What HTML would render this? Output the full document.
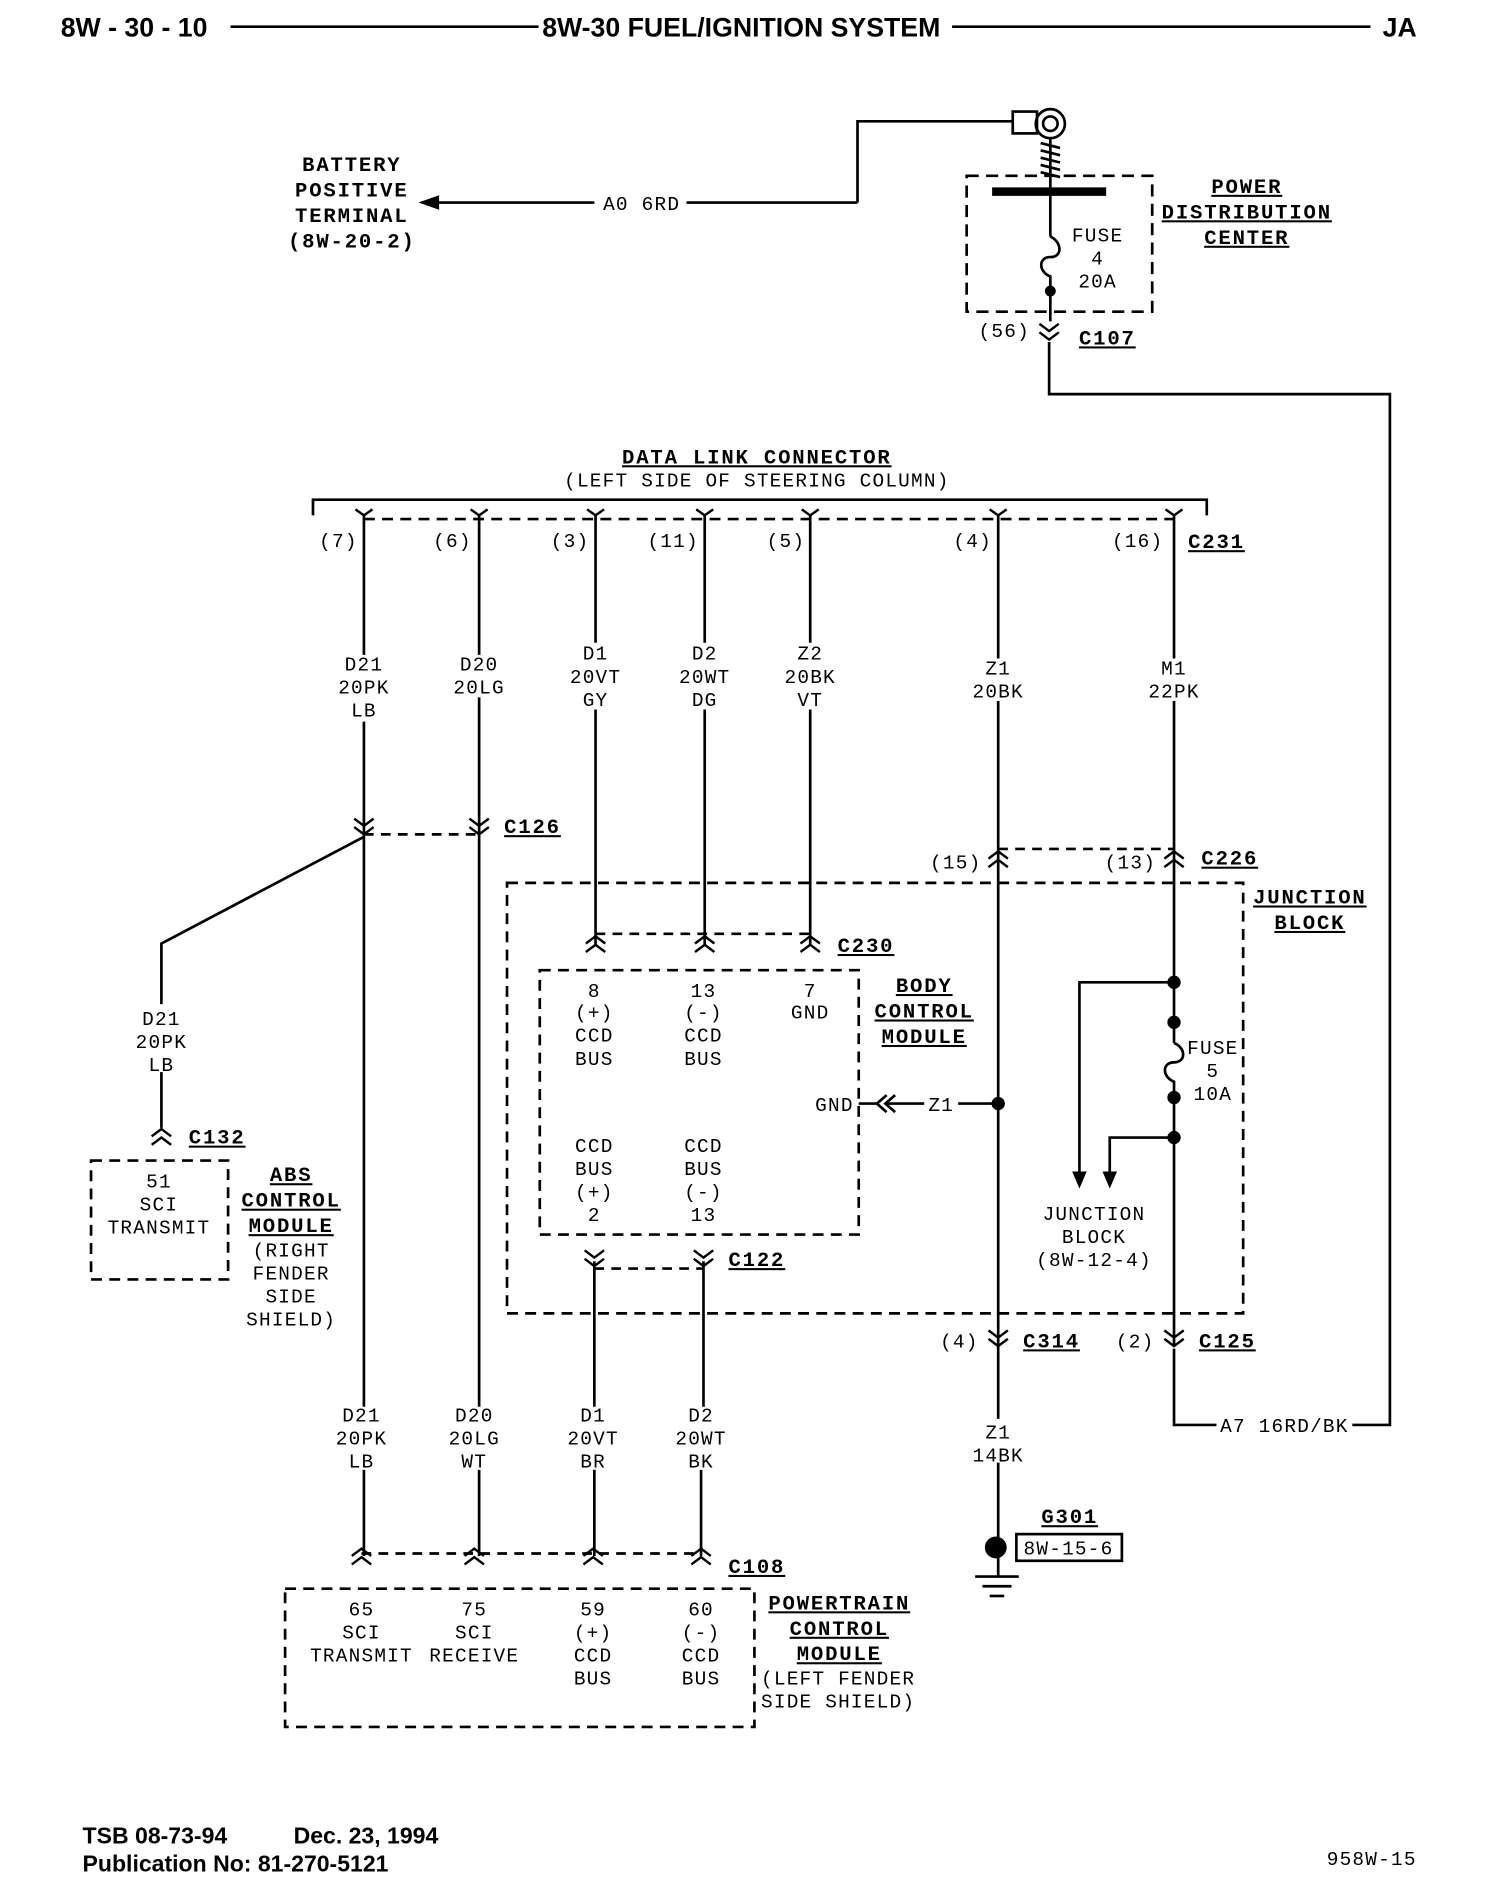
<!DOCTYPE html>
<html><head><meta charset="utf-8"><style>
html,body{margin:0;padding:0;background:#fff}
svg{display:block}
.t{font-family:"Liberation Mono",monospace;font-size:16px;letter-spacing:1px;fill:#000;text-anchor:middle}
.b{font-family:"Liberation Mono",monospace;font-size:17px;font-weight:bold;letter-spacing:1.5px;fill:#000;text-anchor:middle}
.u{text-decoration:underline}
.h{font-family:"Liberation Sans",sans-serif;font-weight:bold;font-size:22px;fill:#000}
.f{font-family:"Liberation Sans",sans-serif;font-weight:bold;font-size:19px;fill:#000}
</style></head><body>
<svg width="1504" height="1904" viewBox="0 0 1240 1570" xmlns="http://www.w3.org/2000/svg">
<defs>
<path id="dn" d="M-8,-7 L0,-1 L8,-7 M-8,0 L0,6 L8,0" fill="none" stroke="#000" stroke-width="2"/>
<path id="up" d="M-8,7 L0,1 L8,7 M-8,0 L0,-6 L8,0" fill="none" stroke="#000" stroke-width="2"/>
<path id="fk" d="M-7,-5 L0,0 L7,-5" fill="none" stroke="#000" stroke-width="2"/>
</defs>
<g stroke="#000" stroke-width="2.2" fill="none">
<!-- header lines -->
<line x1="190" y1="22" x2="444" y2="22"/>
<line x1="785" y1="22" x2="1130" y2="22"/>
<!-- battery feed -->
<line x1="352" y1="167" x2="490" y2="167"/>
<line x1="566" y1="167" x2="707" y2="167"/>
<polyline points="707,167 707,100 835,100"/>
<rect x="835" y="92" width="20" height="18"/>
<circle cx="866" cy="102" r="12"/><circle cx="866" cy="102" r="6"/>
<path d="M858,118 L874,122 M858,124 L874,128 M858,130 L874,134 M858,136 L874,140 M858,142 L874,146"/>
<line x1="866" y1="114" x2="866" y2="158"/>
<line x1="818" y1="158" x2="912" y2="158" stroke-width="7"/>
<line x1="866" y1="158" x2="866" y2="195"/>
<path d="M866,195 C876,200 876,212 866,212 C856,212 856,224 866,228 L866,265"/>
<rect x="797" y="145" width="153" height="112" stroke-dasharray="10,6"/>
<polyline points="865,282 865,325 1146,325 1146,1175 1115,1175"/>
<polyline points="968,1112 968,1175 1003,1175"/>
<!-- DLC bracket -->
<polyline points="258,425 258,412 995,412 995,425"/>
<line x1="300" y1="428" x2="968" y2="428" stroke-dasharray="9,6"/>
<!-- wires -->
<line x1="300" y1="425" x2="300" y2="540"/>
<line x1="300" y1="595" x2="300" y2="1160"/>
<line x1="300" y1="1212" x2="300" y2="1283"/>
<line x1="395" y1="425" x2="395" y2="540"/>
<line x1="395" y1="575" x2="395" y2="1160"/>
<line x1="395" y1="1212" x2="395" y2="1283"/>
<line x1="491" y1="425" x2="491" y2="530"/>
<line x1="491" y1="585" x2="491" y2="780"/>
<line x1="581" y1="425" x2="581" y2="530"/>
<line x1="581" y1="585" x2="581" y2="780"/>
<line x1="668" y1="425" x2="668" y2="530"/>
<line x1="668" y1="585" x2="668" y2="780"/>
<line x1="823" y1="425" x2="823" y2="543"/>
<line x1="823" y1="578" x2="823" y2="1170"/>
<line x1="823" y1="1206" x2="823" y2="1275"/>
<line x1="968" y1="425" x2="968" y2="543"/>
<line x1="968" y1="578" x2="968" y2="860"/>
<path d="M968,860 C978,864 978,876 968,876 C958,876 958,888 968,892 L968,1110"/>
<line x1="490" y1="1040" x2="490" y2="1160"/>
<line x1="580" y1="1040" x2="580" y2="1160"/>
<line x1="490" y1="1212" x2="490" y2="1283"/>
<line x1="578" y1="1212" x2="578" y2="1283"/>
<!-- dashed connector links -->
<line x1="300" y1="688" x2="395" y2="688" stroke-dasharray="8,6"/>
<line x1="823" y1="700" x2="968" y2="700" stroke-dasharray="8,6"/>
<line x1="491" y1="770" x2="668" y2="770" stroke-dasharray="8,6"/>
<line x1="490" y1="1046" x2="580" y2="1046" stroke-dasharray="8,6"/>
<line x1="298" y1="1281" x2="578" y2="1281" stroke-dasharray="8,6"/>
<!-- ABS branch -->
<polyline points="300,690 133,778 133,828"/>
<line x1="133" y1="884" x2="133" y2="930"/>
<rect x="75" y="957" width="113" height="98" stroke-dasharray="9,6"/>
<!-- boxes -->
<rect x="418" y="728" width="607" height="355" stroke-dasharray="9,6"/>
<rect x="445" y="800" width="263" height="218" stroke-dasharray="9,6"/>
<rect x="235" y="1310" width="387" height="114" stroke-dasharray="9,6"/>
<!-- GND -->
<path d="M738,903 L730,910 L738,917 M731,903 L723,910 L731,917"/>
<line x1="708" y1="910" x2="723" y2="910"/>
<line x1="730" y1="910" x2="762" y2="910"/>
<line x1="790" y1="910" x2="823" y2="910"/>
<!-- junction block branches -->
<polyline points="968,810 890,810 890,970"/>
<polyline points="968,938 915,938 915,970"/>
<!-- ground -->
<line x1="804" y1="1300" x2="840" y2="1300"/>
<line x1="810" y1="1308" x2="834" y2="1308"/>
<line x1="816" y1="1316" x2="828" y2="1316"/>
<line x1="823" y1="1275" x2="823" y2="1300"/>
<rect x="838" y="1265" width="87" height="22"/>
</g>
<g fill="#000">
<path d="M345,167 L362,161 L362,173 Z"/>
<circle cx="866" cy="240" r="4.5"/>
<circle cx="968" cy="810" r="5.5"/><circle cx="968" cy="843" r="5.5"/>
<circle cx="968" cy="905" r="5.5"/><circle cx="968" cy="938" r="5.5"/>
<circle cx="823" cy="910" r="5.5"/>
<circle cx="821" cy="1276" r="9"/>
<path d="M890,980 L884,966 L896,966 Z"/><path d="M915,980 L909,966 L921,966 Z"/>
</g>
<!-- connector symbols -->
<use href="#dn" x="865" y="274"/>
<use href="#fk" x="300" y="425"/><use href="#fk" x="395" y="425"/><use href="#fk" x="491" y="425"/><use href="#fk" x="581" y="425"/><use href="#fk" x="668" y="425"/><use href="#fk" x="823" y="425"/><use href="#fk" x="968" y="425"/>
<use href="#dn" x="300" y="682"/><use href="#dn" x="395" y="682"/>
<use href="#up" x="823" y="708"/><use href="#up" x="968" y="708"/>
<use href="#up" x="491" y="778"/><use href="#up" x="581" y="778"/><use href="#up" x="668" y="778"/>
<use href="#up" x="133" y="937"/>
<use href="#dn" x="490" y="1038"/><use href="#dn" x="580" y="1038"/>
<use href="#dn" x="823" y="1104"/><use href="#dn" x="968" y="1104"/>
<use href="#up" x="298" y="1283"/><use href="#up" x="391" y="1283"/><use href="#up" x="489" y="1283"/><use href="#up" x="578" y="1283"/>
<!-- header text -->
<text class="h" x="50" y="30">8W - 30 - 10</text>
<text class="h" x="447" y="30">8W-30 FUEL/IGNITION SYSTEM</text>
<text class="h" x="1140" y="30">JA</text>
<!-- battery -->
<text class="b" x="290" y="141">BATTERY</text>
<text class="b" x="290" y="162">POSITIVE</text>
<text class="b" x="290" y="183">TERMINAL</text>
<text class="b" x="290" y="204">(8W-20-2)</text>
<text class="t" x="529" y="173">A0 6RD</text>
<text class="t" x="905" y="199">FUSE</text><text class="t" x="905" y="218">4</text><text class="t" x="905" y="237">20A</text>
<text class="b u" x="1028" y="159">POWER</text><text class="b u" x="1028" y="180">DISTRIBUTION</text><text class="b u" x="1028" y="201">CENTER</text>
<text class="t" x="828" y="278">(56)</text><text class="b u" x="913" y="284">C107</text>
<text class="b u" x="624" y="382">DATA LINK CONNECTOR</text>
<text class="t" x="624" y="401">(LEFT SIDE OF STEERING COLUMN)</text>
<text class="t" x="279" y="451">(7)</text><text class="t" x="373" y="451">(6)</text><text class="t" x="470" y="451">(3)</text><text class="t" x="555" y="451">(11)</text><text class="t" x="648" y="451">(5)</text><text class="t" x="802" y="451">(4)</text><text class="t" x="938" y="451">(16)</text>
<text class="b u" x="1003" y="452">C231</text>
<text class="t" x="300" y="553">D21</text><text class="t" x="300" y="572">20PK</text><text class="t" x="300" y="591">LB</text>
<text class="t" x="395" y="553">D20</text><text class="t" x="395" y="572">20LG</text>
<text class="t" x="491" y="544">D1</text><text class="t" x="491" y="563">20VT</text><text class="t" x="491" y="582">GY</text>
<text class="t" x="581" y="544">D2</text><text class="t" x="581" y="563">20WT</text><text class="t" x="581" y="582">DG</text>
<text class="t" x="668" y="544">Z2</text><text class="t" x="668" y="563">20BK</text><text class="t" x="668" y="582">VT</text>
<text class="t" x="823" y="556">Z1</text><text class="t" x="823" y="575">20BK</text>
<text class="t" x="968" y="556">M1</text><text class="t" x="968" y="575">22PK</text>
<text class="b u" x="439" y="687">C126</text>
<text class="t" x="788" y="716">(15)</text><text class="t" x="932" y="716">(13)</text><text class="b u" x="1014" y="713">C226</text>
<text class="b u" x="1080" y="745">JUNCTION</text><text class="b u" x="1080" y="766">BLOCK</text>
<text class="b u" x="714" y="785">C230</text>
<text class="t" x="490" y="822">8</text><text class="t" x="490" y="840">(+)</text><text class="t" x="490" y="859">CCD</text><text class="t" x="490" y="878">BUS</text>
<text class="t" x="580" y="822">13</text><text class="t" x="580" y="840">(-)</text><text class="t" x="580" y="859">CCD</text><text class="t" x="580" y="878">BUS</text>
<text class="t" x="668" y="822">7</text><text class="t" x="668" y="840">GND</text>
<text class="b u" x="762" y="818">BODY</text><text class="b u" x="762" y="839">CONTROL</text><text class="b u" x="762" y="860">MODULE</text>
<text class="t" x="688" y="916">GND</text><text class="t" x="776" y="916">Z1</text>
<text class="t" x="1000" y="869">FUSE</text><text class="t" x="1000" y="888">5</text><text class="t" x="1000" y="907">10A</text>
<text class="t" x="490" y="950">CCD</text><text class="t" x="490" y="969">BUS</text><text class="t" x="490" y="988">(+)</text><text class="t" x="490" y="1007">2</text>
<text class="t" x="580" y="950">CCD</text><text class="t" x="580" y="969">BUS</text><text class="t" x="580" y="988">(-)</text><text class="t" x="580" y="1007">13</text>
<text class="t" x="902" y="1006">JUNCTION</text><text class="t" x="902" y="1025">BLOCK</text><text class="t" x="902" y="1044">(8W-12-4)</text>
<text class="b u" x="624" y="1044">C122</text>
<text class="t" x="133" y="845">D21</text><text class="t" x="133" y="864">20PK</text><text class="t" x="133" y="883">LB</text>
<text class="b u" x="179" y="943">C132</text>
<text class="t" x="131" y="979">51</text><text class="t" x="131" y="998">SCI</text><text class="t" x="131" y="1017">TRANSMIT</text>
<text class="b u" x="240" y="974">ABS</text><text class="b u" x="240" y="995">CONTROL</text><text class="b u" x="240" y="1016">MODULE</text>
<text class="t" x="240" y="1036">(RIGHT</text><text class="t" x="240" y="1055">FENDER</text><text class="t" x="240" y="1074">SIDE</text><text class="t" x="240" y="1093">SHIELD)</text>
<text class="t" x="791" y="1111">(4)</text><text class="b u" x="867" y="1111">C314</text>
<text class="t" x="936" y="1111">(2)</text><text class="b u" x="1012" y="1111">C125</text>
<text class="t" x="1059" y="1181">A7 16RD/BK</text>
<text class="t" x="823" y="1186">Z1</text><text class="t" x="823" y="1205">14BK</text>
<text class="b u" x="882" y="1256">G301</text><text class="t" x="881" y="1282">8W-15-6</text>
<text class="t" x="298" y="1172">D21</text><text class="t" x="298" y="1191">20PK</text><text class="t" x="298" y="1210">LB</text>
<text class="t" x="391" y="1172">D20</text><text class="t" x="391" y="1191">20LG</text><text class="t" x="391" y="1210">WT</text>
<text class="t" x="489" y="1172">D1</text><text class="t" x="489" y="1191">20VT</text><text class="t" x="489" y="1210">BR</text>
<text class="t" x="578" y="1172">D2</text><text class="t" x="578" y="1191">20WT</text><text class="t" x="578" y="1210">BK</text>
<text class="b u" x="624" y="1297">C108</text>
<text class="t" x="298" y="1332">65</text><text class="t" x="298" y="1351">SCI</text><text class="t" x="298" y="1370">TRANSMIT</text>
<text class="t" x="391" y="1332">75</text><text class="t" x="391" y="1351">SCI</text><text class="t" x="391" y="1370">RECEIVE</text>
<text class="t" x="489" y="1332">59</text><text class="t" x="489" y="1351">(+)</text><text class="t" x="489" y="1370">CCD</text><text class="t" x="489" y="1389">BUS</text>
<text class="t" x="578" y="1332">60</text><text class="t" x="578" y="1351">(-)</text><text class="t" x="578" y="1370">CCD</text><text class="t" x="578" y="1389">BUS</text>
<text class="b u" x="692" y="1327">POWERTRAIN</text><text class="b u" x="692" y="1348">CONTROL</text><text class="b u" x="692" y="1369">MODULE</text>
<text class="t" x="691" y="1389">(LEFT FENDER</text><text class="t" x="691" y="1408">SIDE SHIELD)</text>
<text class="f" x="68" y="1520">TSB 08-73-94</text><text class="f" x="242" y="1520">Dec. 23, 1994</text>
<text class="f" x="68" y="1543">Publication No:  81-270-5121</text>
<text class="t" x="1131" y="1538">958W-15</text>
</svg>
</body></html>
